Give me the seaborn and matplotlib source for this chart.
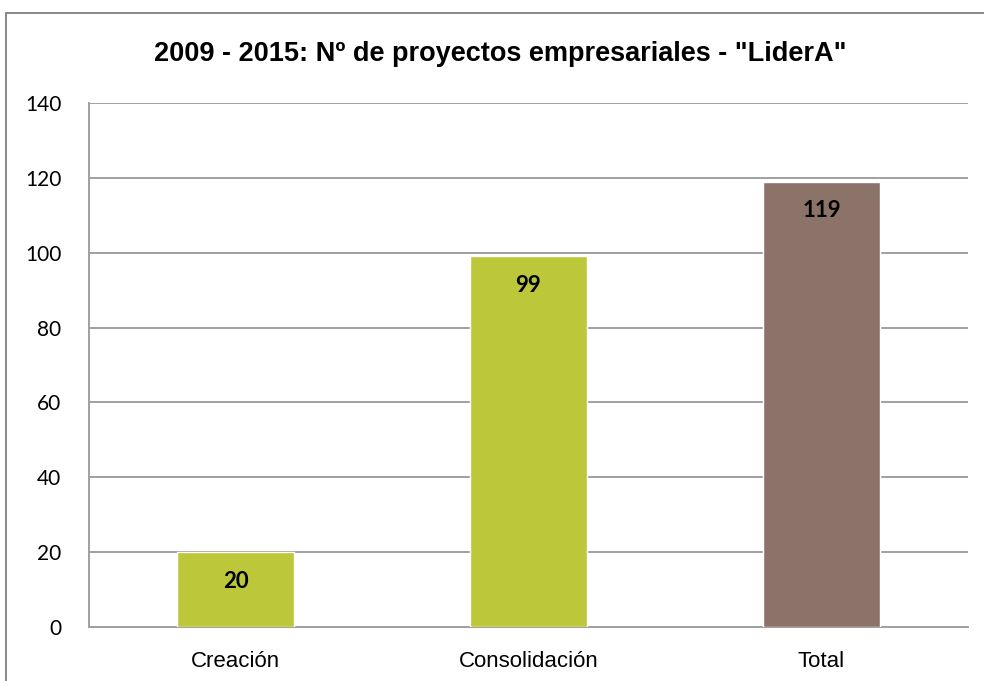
import matplotlib
matplotlib.use("Agg")
import matplotlib.pyplot as plt
import seaborn as sns
import pandas as pd
from matplotlib import font_manager as fm
from matplotlib.lines import Line2D

categories = ["Creación", "Consolidación", "Total"]
values = [20, 99, 119]
colors = ["#BCC83A", "#BCC83A", "#8C7369"]
yticks = [0, 20, 40, 60, 80, 100, 120, 140]
title = '2009 - 2015: Nº de proyectos empresariales - "LiderA"'

sns.set_theme(style="white")
names = {f.name for f in fm.fontManager.ttflist}
narrow = "Liberation Sans Narrow" if "Liberation Sans Narrow" in names else "Liberation Sans"
plt.rcParams["font.family"] = ["Lato", "DejaVu Sans"]

df = pd.DataFrame({"cat": categories, "val": values})

fig = plt.figure(figsize=(9.84, 6.81), dpi=100)
ax = fig.add_axes([89/984, 1-627/681, (968-89)/984, (627-103)/681])
sns.barplot(data=df, x="cat", y="val", hue="cat", palette=colors, width=0.4,
            legend=False, ax=ax, saturation=1, zorder=3)

ax.set_ylim(0, 140)
ax.set_xlim(-0.5, 2.5)
ax.set_yticks(yticks)
ax.set_yticklabels([str(t) for t in yticks], fontsize=15, color="black")
ax.tick_params(axis="y", length=0, pad=20)
ax.tick_params(axis="x", length=0, pad=17)
for lbl in ax.get_xticklabels():
    lbl.set_fontfamily(narrow)
    lbl.set_fontsize(16)
    lbl.set_color("black")
ax.set_xlabel("")
ax.set_ylabel("")
ax.yaxis.grid(True, color="#A0A0A0", linewidth=1.4, zorder=0)
ax.set_axisbelow(True)
for s in ["top", "right"]:
    ax.spines[s].set_visible(False)
for s in ["left", "bottom"]:
    ax.spines[s].set_color("#A0A0A0")
    ax.spines[s].set_linewidth(1.4)

for i, v in enumerate(values):
    ax.annotate(str(v), (i, v), xytext=(0, -21), textcoords="offset points",
                ha="center", va="center", fontsize=16, fontweight="bold", color="black")

fig.text(500/984, 1-54/681, title, ha="center", va="center", fontsize=19.5,
         fontweight="bold", family=[narrow, "DejaVu Sans"], color="black")

# outer chart border
fig.add_artist(Line2D([6/984, 1.0], [1-13/681, 1-13/681], transform=fig.transFigure,
                      color="#888888", linewidth=1.4))
fig.add_artist(Line2D([6/984, 6/984], [0, 1-13/681], transform=fig.transFigure,
                      color="#888888", linewidth=1.4))

fig.savefig("out.png", dpi=100)
